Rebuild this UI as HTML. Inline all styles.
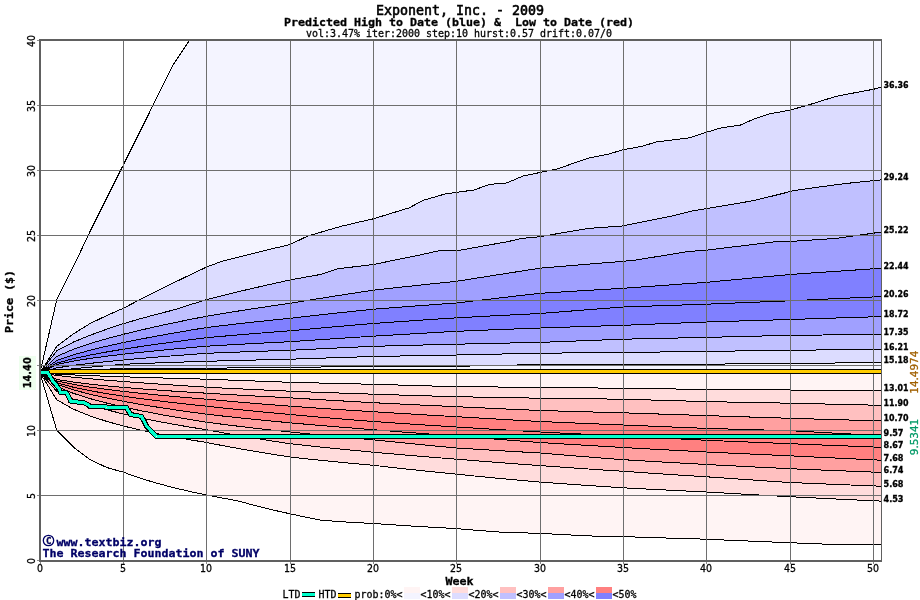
<!DOCTYPE html><html><head><meta charset="utf-8"><title>Exponent, Inc. - 2009</title>
<style>html,body{margin:0;padding:0;background:#fff;overflow:hidden}svg{display:block}text{font-family:'DejaVu Sans Mono','Liberation Mono',monospace;stroke:currentColor;stroke-width:0.3px;paint-order:stroke}.b{font-weight:bold}.n{font-family:'DejaVu Sans',sans-serif}</style></head><body>
<svg width="920" height="600" viewBox="0 0 920 600">
<rect x="0" y="0" width="920" height="600" fill="#fff"/>
<polygon fill="#f4f4ff" points="40.00,372.80 56.67,300.00 73.33,266.70 90.00,231.60 106.67,198.20 123.33,165.00 140.00,131.50 156.67,98.00 173.33,64.50 189.67,40.00 881.00,40.00 881.00,372.80"/>
<polygon fill="#dcdcff" points="40.00,372.80 56.67,346.50 73.33,333.90 90.00,323.60 106.67,315.55 123.33,308.30 140.00,299.57 156.67,291.14 173.33,282.94 190.00,274.90 206.67,267.00 221.20,261.60 223.33,261.03 240.00,256.68 256.67,252.51 273.33,248.49 290.00,244.60 306.67,236.51 307.30,236.20 323.33,231.47 340.00,226.64 341.20,226.30 356.67,222.65 373.33,218.80 390.00,213.68 406.67,208.61 409.00,207.90 423.20,200.30 423.33,200.26 440.00,195.46 445.80,193.80 456.67,192.32 473.33,190.09 474.00,190.00 489.50,184.40 490.00,184.36 506.50,183.00 506.67,182.93 523.33,175.93 523.40,175.90 540.00,172.50 556.67,169.03 557.30,168.90 573.33,163.34 588.40,158.10 590.00,157.78 606.67,154.50 608.20,154.20 623.33,149.70 640.00,146.66 642.00,146.30 656.20,142.00 656.67,141.94 673.33,139.85 690.00,137.80 690.00,137.80 706.67,132.20 721.80,127.70 723.33,127.48 740.00,125.09 740.60,125.00 755.40,118.40 756.67,117.99 769.30,113.90 773.33,113.16 790.00,110.10 806.67,105.44 807.90,105.10 823.33,100.32 836.60,96.20 840.00,95.56 856.67,92.42 873.33,89.30 881.00,87.30 881.00,372.80"/>
<polygon fill="#c0c0ff" points="40.00,372.80 56.67,350.90 73.33,342.12 90.00,335.30 106.67,329.19 123.33,323.70 140.00,318.83 156.67,314.29 173.33,310.01 175.40,309.50 190.00,304.78 206.67,299.50 223.33,295.34 240.00,291.30 249.30,289.10 256.67,287.41 273.33,283.66 290.00,280.00 306.67,276.95 321.50,274.30 323.33,273.69 338.00,268.80 340.00,268.55 356.67,266.49 373.33,264.50 390.00,261.08 406.67,257.70 415.60,255.90 423.33,254.19 437.80,251.00 440.00,250.92 456.67,250.32 460.00,250.20 473.33,247.79 490.00,244.81 506.67,241.86 507.00,241.80 521.30,238.50 523.33,238.30 540.00,236.70 556.67,233.82 573.33,230.95 588.30,228.40 590.00,228.28 606.67,227.07 621.80,226.00 623.33,225.69 640.00,222.36 656.67,219.04 673.33,215.71 674.40,215.50 690.00,211.60 693.60,210.70 706.67,208.51 722.30,205.90 723.33,205.73 740.00,202.94 751.00,201.10 756.67,199.76 773.33,195.80 775.00,195.40 790.00,191.61 794.00,190.60 806.67,188.75 813.20,187.80 823.33,186.46 840.00,184.28 846.70,183.40 856.67,182.38 873.33,180.68 881.00,179.90 881.00,372.80"/>
<polygon fill="#a0a0ff" points="40.00,372.80 56.67,356.44 73.33,349.27 90.00,343.60 106.67,338.70 123.33,334.30 140.00,330.25 156.67,326.46 173.33,322.88 190.00,319.47 206.67,316.20 223.33,313.43 240.00,310.76 256.67,308.20 273.33,305.71 290.00,303.30 306.67,300.58 323.33,297.91 340.00,295.30 356.67,292.73 373.33,290.20 390.00,288.34 406.67,286.53 423.33,284.75 440.00,283.01 456.67,281.30 473.33,278.65 490.00,276.02 506.67,273.40 523.33,270.79 540.00,268.20 556.67,266.78 573.33,265.37 590.00,263.99 606.67,262.64 623.33,261.30 636.20,260.00 640.00,259.38 656.67,256.66 673.33,253.93 688.80,251.40 690.00,251.32 706.67,250.20 723.33,248.14 740.00,246.08 756.67,244.04 773.33,242.00 775.00,241.80 790.00,241.50 806.67,240.35 823.33,239.22 837.00,238.30 840.00,237.88 856.67,235.53 873.33,233.18 881.00,232.10 881.00,372.80"/>
<polygon fill="#8080ff" points="40.00,372.80 56.67,360.58 73.33,354.84 90.00,350.24 106.67,346.23 123.33,342.60 140.00,339.24 156.67,336.09 173.33,333.10 190.00,330.25 206.67,327.50 223.33,325.50 240.00,323.59 256.67,321.76 273.33,320.00 290.00,318.30 306.67,316.39 323.33,314.53 340.00,312.72 356.67,310.94 373.33,309.20 390.00,307.90 406.67,306.63 423.33,305.39 440.00,304.18 456.67,303.00 473.33,301.03 490.00,299.08 506.67,297.14 523.33,295.21 540.00,293.30 556.67,292.27 573.33,291.25 590.00,290.25 606.67,289.27 623.33,288.30 640.00,287.07 656.67,285.86 673.33,284.66 690.00,283.47 706.67,282.30 723.33,280.73 740.00,279.16 756.67,277.60 773.33,276.05 790.00,274.50 806.67,273.34 823.33,272.20 840.00,271.06 856.67,269.93 873.33,268.81 881.00,268.30 881.00,372.80"/>
<polygon fill="#8080ff" points="40.00,372.80 56.67,363.14 73.33,358.66 90.00,355.09 106.67,351.99 123.33,349.20 140.00,346.63 156.67,344.22 173.33,341.95 190.00,339.78 206.67,337.70 223.33,336.20 240.00,334.76 256.67,333.39 273.33,332.07 290.00,330.80 306.67,329.27 323.33,327.78 340.00,326.32 356.67,324.90 373.33,323.50 390.00,322.31 406.67,321.15 423.33,320.01 440.00,318.89 456.67,317.80 473.33,316.91 490.00,316.03 506.67,315.17 523.33,314.33 540.00,313.50 556.67,312.18 573.33,310.87 590.00,309.57 606.67,308.28 623.33,307.00 640.00,306.42 656.67,305.85 673.33,305.29 690.00,304.74 706.67,304.20 723.33,303.50 740.00,302.81 756.67,302.13 773.33,301.46 790.00,300.80 806.67,300.01 823.33,299.24 840.00,298.47 856.67,297.70 873.33,296.95 881.00,296.60 881.00,372.80"/>
<polygon fill="#a0a0ff" points="40.00,372.80 56.67,364.54 73.33,361.11 90.00,358.46 106.67,356.20 123.33,354.20 140.00,352.38 156.67,350.69 173.33,349.11 190.00,347.62 206.67,346.20 223.33,345.21 240.00,344.27 256.67,343.37 273.33,342.52 290.00,341.70 306.67,340.55 323.33,339.42 340.00,338.33 356.67,337.25 373.33,336.20 390.00,335.18 406.67,334.19 423.33,333.21 440.00,332.25 456.67,331.30 473.33,330.61 490.00,329.94 506.67,329.28 523.33,328.63 540.00,328.00 556.67,327.44 573.33,326.89 590.00,326.35 606.67,325.82 623.33,325.30 640.00,324.62 656.67,323.96 673.33,323.30 690.00,322.64 706.67,322.00 723.33,321.49 740.00,320.98 756.67,320.48 773.33,319.99 790.00,319.50 806.67,318.96 823.33,318.42 840.00,317.89 856.67,317.36 873.33,316.84 881.00,316.60 881.00,372.80"/>
<polygon fill="#c0c0ff" points="40.00,372.80 56.67,367.89 73.33,365.40 90.00,363.38 106.67,361.61 123.33,360.00 140.00,358.51 156.67,357.11 173.33,355.78 190.00,354.52 206.67,353.30 223.33,352.63 240.00,352.01 256.67,351.41 273.33,350.84 290.00,350.30 306.67,349.46 323.33,348.64 340.00,347.85 356.67,347.06 373.33,346.30 390.00,345.86 406.67,345.42 423.33,345.00 440.00,344.60 456.67,344.20 473.33,343.82 490.00,343.45 506.67,343.09 523.33,342.74 540.00,342.40 556.67,341.75 573.33,341.10 590.00,340.46 606.67,339.83 623.33,339.20 640.00,338.83 656.67,338.46 673.33,338.10 690.00,337.75 706.67,337.40 723.33,336.97 740.00,336.55 756.67,336.13 773.33,335.71 790.00,335.30 806.67,335.15 823.33,335.00 840.00,334.85 856.67,334.71 873.33,334.56 881.00,334.50 881.00,372.80"/>
<polygon fill="#dcdcff" points="40.00,372.80 56.67,370.49 73.33,368.77 90.00,367.20 106.67,365.72 123.33,364.30 140.00,363.60 156.67,362.96 173.33,362.37 190.00,361.82 206.67,361.30 223.33,360.84 240.00,360.40 256.67,359.98 273.33,359.58 290.00,359.20 306.67,358.64 323.33,358.09 340.00,357.55 356.67,357.02 373.33,356.50 390.00,356.18 406.67,355.88 423.33,355.58 440.00,355.28 456.67,355.00 473.33,354.63 490.00,354.26 506.67,353.90 523.33,353.55 540.00,353.20 556.67,353.05 573.33,352.91 590.00,352.77 606.67,352.63 623.33,352.50 640.00,352.27 656.67,352.05 673.33,351.83 690.00,351.61 706.67,351.40 723.33,351.17 740.00,350.95 756.67,350.73 773.33,350.51 790.00,350.30 806.67,350.11 823.33,349.93 840.00,349.74 856.67,349.56 873.33,349.38 881.00,349.30 881.00,372.80"/>
<polygon fill="#f4f4ff" points="40.00,372.80 56.67,370.34 73.33,369.77 90.00,369.37 106.67,369.06 123.33,368.80 140.00,368.65 156.67,368.52 173.33,368.40 190.00,368.30 206.67,368.20 223.33,368.04 240.00,367.90 256.67,367.76 273.33,367.63 290.00,367.50 306.67,367.23 323.33,366.97 340.00,366.71 356.67,366.45 373.33,366.20 390.00,366.22 406.67,366.24 423.33,366.26 440.00,366.28 456.67,366.30 473.33,365.95 490.00,365.59 506.67,365.23 523.33,364.87 540.00,364.50 556.67,364.50 573.33,364.50 590.00,364.50 606.67,364.50 623.33,364.50 640.00,364.44 656.67,364.38 673.33,364.32 690.00,364.26 706.67,364.20 723.33,364.02 740.00,363.84 756.67,363.66 773.33,363.48 790.00,363.30 806.67,363.19 823.33,363.08 840.00,362.97 856.67,362.86 873.33,362.75 881.00,362.70 881.00,372.80"/>
<polygon fill="#fff4f4" points="40.00,372.80 56.67,430.00 73.33,447.00 90.00,459.50 106.67,467.50 123.33,472.20 140.00,478.10 156.67,483.17 173.33,487.59 190.00,491.50 206.67,495.00 223.33,498.24 237.20,500.70 240.00,501.50 256.67,505.98 273.33,510.07 290.00,513.80 306.67,517.34 321.30,520.20 323.33,520.36 340.00,521.59 348.70,522.20 356.67,522.63 373.33,523.50 390.00,524.64 406.67,525.72 423.33,526.73 440.00,527.69 456.67,528.60 473.33,530.02 490.00,531.35 498.50,532.00 506.67,532.29 523.33,532.86 540.00,533.40 556.67,534.27 573.33,535.10 590.00,535.90 598.80,536.30 606.67,536.40 623.33,536.60 640.00,537.16 656.67,537.70 673.33,538.22 690.00,538.72 706.67,539.20 723.33,539.96 740.00,540.69 756.67,541.39 773.33,542.06 790.00,542.70 806.67,543.40 823.33,544.07 832.00,544.40 840.00,544.40 856.67,544.40 873.33,544.40 881.00,544.40 881.00,372.80"/>
<polygon fill="#ffdcdc" points="40.00,372.80 56.67,399.66 73.33,409.12 90.00,415.93 106.67,421.39 123.33,426.00 140.00,430.02 156.67,433.60 173.33,436.83 190.00,439.78 206.67,442.50 223.33,445.75 240.00,448.81 256.67,451.69 273.33,454.41 290.00,457.00 306.67,458.83 323.33,460.56 340.00,462.21 356.67,463.79 373.33,465.30 390.00,467.22 406.67,469.06 423.33,470.84 440.00,472.55 456.67,474.20 473.33,475.89 490.00,477.52 506.67,479.09 523.33,480.62 540.00,482.10 556.67,483.31 573.33,484.48 590.00,485.62 606.67,486.73 623.33,487.80 640.00,488.69 656.67,489.55 673.33,490.39 690.00,491.20 706.67,492.00 723.33,492.99 740.00,493.95 756.67,494.89 773.33,495.80 790.00,496.70 806.67,497.55 823.33,498.37 840.00,499.18 856.67,499.98 873.33,500.75 881.00,501.10 881.00,372.80"/>
<polygon fill="#ffc0c0" points="40.00,372.80 56.67,391.14 73.33,398.98 90.00,404.88 106.67,409.77 123.33,414.00 140.00,417.75 156.67,421.15 173.33,424.26 190.00,427.13 206.67,429.80 223.33,432.87 240.00,435.78 256.67,438.54 273.33,441.18 290.00,443.70 306.67,445.55 323.33,447.32 340.00,449.02 356.67,450.64 373.33,452.20 390.00,453.70 406.67,455.15 423.33,456.55 440.00,457.89 456.67,459.20 473.33,460.56 490.00,461.87 506.67,463.15 523.33,464.39 540.00,465.60 556.67,466.80 573.33,467.97 590.00,469.11 606.67,470.22 623.33,471.30 640.00,472.45 656.67,473.58 673.33,474.68 690.00,475.75 706.67,476.80 723.33,477.99 740.00,479.15 756.67,480.29 773.33,481.41 790.00,482.50 806.67,483.21 823.33,483.90 840.00,484.58 856.67,485.25 873.33,485.90 881.00,486.20 881.00,372.80"/>
<polygon fill="#ffa0a0" points="40.00,372.80 56.67,386.58 73.33,393.32 90.00,398.60 106.67,403.07 123.33,407.00 140.00,410.54 156.67,413.79 173.33,416.78 190.00,419.58 206.67,422.20 223.33,424.38 240.00,426.43 256.67,428.38 273.33,430.23 290.00,432.00 306.67,433.69 323.33,435.31 340.00,436.86 356.67,438.36 373.33,439.80 390.00,441.54 406.67,443.22 423.33,444.86 440.00,446.45 456.67,448.00 473.33,449.06 490.00,450.09 506.67,451.08 523.33,452.06 540.00,453.00 556.67,454.40 573.33,455.77 590.00,457.11 606.67,458.42 623.33,459.70 640.00,460.70 656.67,461.68 673.33,462.64 690.00,463.58 706.67,464.50 723.33,465.37 740.00,466.23 756.67,467.07 773.33,467.89 790.00,468.70 806.67,469.41 823.33,470.10 840.00,470.78 856.67,471.45 873.33,472.10 881.00,472.40 881.00,372.80"/>
<polygon fill="#ff8080" points="40.00,372.80 56.67,384.25 73.33,389.85 90.00,394.25 106.67,397.99 123.33,401.30 140.00,404.29 156.67,407.03 173.33,409.58 190.00,411.96 206.67,414.20 223.33,416.10 240.00,417.90 256.67,419.61 273.33,421.24 290.00,422.80 306.67,424.29 323.33,425.72 340.00,427.09 356.67,428.42 373.33,429.70 390.00,431.04 406.67,432.33 423.33,433.59 440.00,434.81 456.67,436.00 473.33,437.36 490.00,438.69 506.67,439.99 523.33,441.26 540.00,442.50 556.67,443.54 573.33,444.57 590.00,445.56 606.67,446.54 623.33,447.50 640.00,448.44 656.67,449.35 673.33,450.25 690.00,451.13 706.67,452.00 723.33,452.79 740.00,453.56 756.67,454.32 773.33,455.07 790.00,455.80 806.67,456.63 823.33,457.46 840.00,458.26 856.67,459.06 873.33,459.84 881.00,460.20 881.00,372.80"/>
<polygon fill="#ff8080" points="40.00,372.80 56.67,382.72 73.33,387.21 90.00,390.69 106.67,393.62 123.33,396.20 140.00,398.52 156.67,400.65 173.33,402.62 190.00,404.47 206.67,406.20 223.33,408.01 240.00,409.73 256.67,411.39 273.33,412.97 290.00,414.50 306.67,415.99 323.33,417.43 340.00,418.83 356.67,420.19 373.33,421.50 390.00,422.66 406.67,423.79 423.33,424.89 440.00,425.96 456.67,427.00 473.33,428.05 490.00,429.07 506.67,430.07 523.33,431.04 540.00,432.00 556.67,432.83 573.33,433.65 590.00,434.45 606.67,435.23 623.33,436.00 640.00,436.89 656.67,437.76 673.33,438.62 690.00,439.47 706.67,440.30 723.33,441.00 740.00,441.69 756.67,442.37 773.33,443.04 790.00,443.70 806.67,444.38 823.33,445.05 840.00,445.71 856.67,446.37 873.33,447.01 881.00,447.30 881.00,372.80"/>
<polygon fill="#ffa0a0" points="40.00,372.80 56.67,380.85 73.33,384.38 90.00,387.10 106.67,389.39 123.33,391.40 140.00,393.21 156.67,394.87 173.33,396.41 190.00,397.85 206.67,399.20 223.33,400.71 240.00,402.16 256.67,403.56 273.33,404.90 290.00,406.20 306.67,407.37 323.33,408.50 340.00,409.60 356.67,410.67 373.33,411.70 390.00,412.75 406.67,413.77 423.33,414.77 440.00,415.75 456.67,416.70 473.33,417.70 490.00,418.68 506.67,419.64 523.33,420.58 540.00,421.50 556.67,422.23 573.33,422.94 590.00,423.64 606.67,424.33 623.33,425.00 640.00,425.70 656.67,426.39 673.33,427.07 690.00,427.74 706.67,428.40 723.33,428.88 740.00,429.34 756.67,429.80 773.33,430.26 790.00,430.70 806.67,431.62 823.33,432.53 840.00,433.42 856.67,434.32 873.33,435.20 881.00,435.60 881.00,372.80"/>
<polygon fill="#ffc0c0" points="40.00,372.80 56.67,379.40 73.33,382.11 90.00,384.17 106.67,385.89 123.33,387.40 140.00,388.75 156.67,389.99 173.33,391.13 190.00,392.20 206.67,393.20 223.33,394.20 240.00,395.16 256.67,396.08 273.33,396.95 290.00,397.80 306.67,398.83 323.33,399.83 340.00,400.81 356.67,401.77 373.33,402.70 390.00,403.54 406.67,404.35 423.33,405.15 440.00,405.93 456.67,406.70 473.33,407.49 490.00,408.26 506.67,409.02 523.33,409.77 540.00,410.50 556.67,410.98 573.33,411.45 590.00,411.91 606.67,412.36 623.33,412.80 640.00,413.38 656.67,413.95 673.33,414.51 690.00,415.06 706.67,415.60 723.33,416.15 740.00,416.70 756.67,417.24 773.33,417.77 790.00,418.30 806.67,418.79 823.33,419.27 840.00,419.75 856.67,420.22 873.33,420.69 881.00,420.90 881.00,372.80"/>
<polygon fill="#ffdcdc" points="40.00,372.80 56.67,375.44 73.33,377.23 90.00,378.78 106.67,380.19 123.33,381.50 140.00,382.74 156.67,383.92 173.33,385.05 190.00,386.15 206.67,387.20 223.33,388.06 240.00,388.88 256.67,389.68 273.33,390.45 290.00,391.20 306.67,391.84 323.33,392.45 340.00,393.05 356.67,393.63 373.33,394.20 390.00,394.72 406.67,395.24 423.33,395.74 440.00,396.22 456.67,396.70 473.33,397.02 490.00,397.32 506.67,397.62 523.33,397.91 540.00,398.20 556.67,398.41 573.33,398.61 590.00,398.81 606.67,399.01 623.33,399.20 640.00,399.69 656.67,400.18 673.33,400.66 690.00,401.13 706.67,401.60 723.33,401.93 740.00,402.25 756.67,402.57 773.33,402.89 790.00,403.20 806.67,403.59 823.33,403.98 840.00,404.37 856.67,404.75 873.33,405.13 881.00,405.30 881.00,372.80"/>
<polygon fill="#fff4f4" points="40.00,372.80 56.67,374.13 73.33,374.94 90.00,375.62 106.67,376.24 123.33,376.80 140.00,377.33 156.67,377.83 173.33,378.30 190.00,378.76 206.67,379.20 223.33,379.82 240.00,380.45 256.67,381.07 273.33,381.68 290.00,382.30 306.67,382.72 323.33,383.12 340.00,383.52 356.67,383.92 373.33,384.30 390.00,384.79 406.67,385.27 423.33,385.75 440.00,386.23 456.67,386.70 473.33,386.83 490.00,386.95 506.67,387.07 523.33,387.19 540.00,387.30 556.67,387.51 573.33,387.71 590.00,387.91 606.67,388.11 623.33,388.30 640.00,388.53 656.67,388.75 673.33,388.97 690.00,389.19 706.67,389.40 723.33,389.52 740.00,389.65 756.67,389.77 773.33,389.88 790.00,390.00 806.67,390.17 823.33,390.34 840.00,390.50 856.67,390.67 873.33,390.83 881.00,390.90 881.00,372.80"/>
<g fill="none" stroke="#000" stroke-width="1" shape-rendering="crispEdges"><polyline points="40.00,372.80 56.67,300.00 73.33,266.70 90.00,231.60 106.67,198.20 123.33,165.00 140.00,131.50 156.67,98.00 173.33,64.50 189.67,40.00"/><polyline points="40.00,372.80 56.67,346.50 73.33,333.90 90.00,323.60 106.67,315.55 123.33,308.30 140.00,299.57 156.67,291.14 173.33,282.94 190.00,274.90 206.67,267.00 221.20,261.60 223.33,261.03 240.00,256.68 256.67,252.51 273.33,248.49 290.00,244.60 306.67,236.51 307.30,236.20 323.33,231.47 340.00,226.64 341.20,226.30 356.67,222.65 373.33,218.80 390.00,213.68 406.67,208.61 409.00,207.90 423.20,200.30 423.33,200.26 440.00,195.46 445.80,193.80 456.67,192.32 473.33,190.09 474.00,190.00 489.50,184.40 490.00,184.36 506.50,183.00 506.67,182.93 523.33,175.93 523.40,175.90 540.00,172.50 556.67,169.03 557.30,168.90 573.33,163.34 588.40,158.10 590.00,157.78 606.67,154.50 608.20,154.20 623.33,149.70 640.00,146.66 642.00,146.30 656.20,142.00 656.67,141.94 673.33,139.85 690.00,137.80 690.00,137.80 706.67,132.20 721.80,127.70 723.33,127.48 740.00,125.09 740.60,125.00 755.40,118.40 756.67,117.99 769.30,113.90 773.33,113.16 790.00,110.10 806.67,105.44 807.90,105.10 823.33,100.32 836.60,96.20 840.00,95.56 856.67,92.42 873.33,89.30 881.00,87.30"/><polyline points="40.00,372.80 56.67,350.90 73.33,342.12 90.00,335.30 106.67,329.19 123.33,323.70 140.00,318.83 156.67,314.29 173.33,310.01 175.40,309.50 190.00,304.78 206.67,299.50 223.33,295.34 240.00,291.30 249.30,289.10 256.67,287.41 273.33,283.66 290.00,280.00 306.67,276.95 321.50,274.30 323.33,273.69 338.00,268.80 340.00,268.55 356.67,266.49 373.33,264.50 390.00,261.08 406.67,257.70 415.60,255.90 423.33,254.19 437.80,251.00 440.00,250.92 456.67,250.32 460.00,250.20 473.33,247.79 490.00,244.81 506.67,241.86 507.00,241.80 521.30,238.50 523.33,238.30 540.00,236.70 556.67,233.82 573.33,230.95 588.30,228.40 590.00,228.28 606.67,227.07 621.80,226.00 623.33,225.69 640.00,222.36 656.67,219.04 673.33,215.71 674.40,215.50 690.00,211.60 693.60,210.70 706.67,208.51 722.30,205.90 723.33,205.73 740.00,202.94 751.00,201.10 756.67,199.76 773.33,195.80 775.00,195.40 790.00,191.61 794.00,190.60 806.67,188.75 813.20,187.80 823.33,186.46 840.00,184.28 846.70,183.40 856.67,182.38 873.33,180.68 881.00,179.90"/><polyline points="40.00,372.80 56.67,356.44 73.33,349.27 90.00,343.60 106.67,338.70 123.33,334.30 140.00,330.25 156.67,326.46 173.33,322.88 190.00,319.47 206.67,316.20 223.33,313.43 240.00,310.76 256.67,308.20 273.33,305.71 290.00,303.30 306.67,300.58 323.33,297.91 340.00,295.30 356.67,292.73 373.33,290.20 390.00,288.34 406.67,286.53 423.33,284.75 440.00,283.01 456.67,281.30 473.33,278.65 490.00,276.02 506.67,273.40 523.33,270.79 540.00,268.20 556.67,266.78 573.33,265.37 590.00,263.99 606.67,262.64 623.33,261.30 636.20,260.00 640.00,259.38 656.67,256.66 673.33,253.93 688.80,251.40 690.00,251.32 706.67,250.20 723.33,248.14 740.00,246.08 756.67,244.04 773.33,242.00 775.00,241.80 790.00,241.50 806.67,240.35 823.33,239.22 837.00,238.30 840.00,237.88 856.67,235.53 873.33,233.18 881.00,232.10"/><polyline points="40.00,372.80 56.67,360.58 73.33,354.84 90.00,350.24 106.67,346.23 123.33,342.60 140.00,339.24 156.67,336.09 173.33,333.10 190.00,330.25 206.67,327.50 223.33,325.50 240.00,323.59 256.67,321.76 273.33,320.00 290.00,318.30 306.67,316.39 323.33,314.53 340.00,312.72 356.67,310.94 373.33,309.20 390.00,307.90 406.67,306.63 423.33,305.39 440.00,304.18 456.67,303.00 473.33,301.03 490.00,299.08 506.67,297.14 523.33,295.21 540.00,293.30 556.67,292.27 573.33,291.25 590.00,290.25 606.67,289.27 623.33,288.30 640.00,287.07 656.67,285.86 673.33,284.66 690.00,283.47 706.67,282.30 723.33,280.73 740.00,279.16 756.67,277.60 773.33,276.05 790.00,274.50 806.67,273.34 823.33,272.20 840.00,271.06 856.67,269.93 873.33,268.81 881.00,268.30"/><polyline points="40.00,372.80 56.67,363.14 73.33,358.66 90.00,355.09 106.67,351.99 123.33,349.20 140.00,346.63 156.67,344.22 173.33,341.95 190.00,339.78 206.67,337.70 223.33,336.20 240.00,334.76 256.67,333.39 273.33,332.07 290.00,330.80 306.67,329.27 323.33,327.78 340.00,326.32 356.67,324.90 373.33,323.50 390.00,322.31 406.67,321.15 423.33,320.01 440.00,318.89 456.67,317.80 473.33,316.91 490.00,316.03 506.67,315.17 523.33,314.33 540.00,313.50 556.67,312.18 573.33,310.87 590.00,309.57 606.67,308.28 623.33,307.00 640.00,306.42 656.67,305.85 673.33,305.29 690.00,304.74 706.67,304.20 723.33,303.50 740.00,302.81 756.67,302.13 773.33,301.46 790.00,300.80 806.67,300.01 823.33,299.24 840.00,298.47 856.67,297.70 873.33,296.95 881.00,296.60"/><polyline points="40.00,372.80 56.67,364.54 73.33,361.11 90.00,358.46 106.67,356.20 123.33,354.20 140.00,352.38 156.67,350.69 173.33,349.11 190.00,347.62 206.67,346.20 223.33,345.21 240.00,344.27 256.67,343.37 273.33,342.52 290.00,341.70 306.67,340.55 323.33,339.42 340.00,338.33 356.67,337.25 373.33,336.20 390.00,335.18 406.67,334.19 423.33,333.21 440.00,332.25 456.67,331.30 473.33,330.61 490.00,329.94 506.67,329.28 523.33,328.63 540.00,328.00 556.67,327.44 573.33,326.89 590.00,326.35 606.67,325.82 623.33,325.30 640.00,324.62 656.67,323.96 673.33,323.30 690.00,322.64 706.67,322.00 723.33,321.49 740.00,320.98 756.67,320.48 773.33,319.99 790.00,319.50 806.67,318.96 823.33,318.42 840.00,317.89 856.67,317.36 873.33,316.84 881.00,316.60"/><polyline points="40.00,372.80 56.67,367.89 73.33,365.40 90.00,363.38 106.67,361.61 123.33,360.00 140.00,358.51 156.67,357.11 173.33,355.78 190.00,354.52 206.67,353.30 223.33,352.63 240.00,352.01 256.67,351.41 273.33,350.84 290.00,350.30 306.67,349.46 323.33,348.64 340.00,347.85 356.67,347.06 373.33,346.30 390.00,345.86 406.67,345.42 423.33,345.00 440.00,344.60 456.67,344.20 473.33,343.82 490.00,343.45 506.67,343.09 523.33,342.74 540.00,342.40 556.67,341.75 573.33,341.10 590.00,340.46 606.67,339.83 623.33,339.20 640.00,338.83 656.67,338.46 673.33,338.10 690.00,337.75 706.67,337.40 723.33,336.97 740.00,336.55 756.67,336.13 773.33,335.71 790.00,335.30 806.67,335.15 823.33,335.00 840.00,334.85 856.67,334.71 873.33,334.56 881.00,334.50"/><polyline points="40.00,372.80 56.67,370.49 73.33,368.77 90.00,367.20 106.67,365.72 123.33,364.30 140.00,363.60 156.67,362.96 173.33,362.37 190.00,361.82 206.67,361.30 223.33,360.84 240.00,360.40 256.67,359.98 273.33,359.58 290.00,359.20 306.67,358.64 323.33,358.09 340.00,357.55 356.67,357.02 373.33,356.50 390.00,356.18 406.67,355.88 423.33,355.58 440.00,355.28 456.67,355.00 473.33,354.63 490.00,354.26 506.67,353.90 523.33,353.55 540.00,353.20 556.67,353.05 573.33,352.91 590.00,352.77 606.67,352.63 623.33,352.50 640.00,352.27 656.67,352.05 673.33,351.83 690.00,351.61 706.67,351.40 723.33,351.17 740.00,350.95 756.67,350.73 773.33,350.51 790.00,350.30 806.67,350.11 823.33,349.93 840.00,349.74 856.67,349.56 873.33,349.38 881.00,349.30"/><polyline points="40.00,372.80 56.67,370.34 73.33,369.77 90.00,369.37 106.67,369.06 123.33,368.80 140.00,368.65 156.67,368.52 173.33,368.40 190.00,368.30 206.67,368.20 223.33,368.04 240.00,367.90 256.67,367.76 273.33,367.63 290.00,367.50 306.67,367.23 323.33,366.97 340.00,366.71 356.67,366.45 373.33,366.20 390.00,366.22 406.67,366.24 423.33,366.26 440.00,366.28 456.67,366.30 473.33,365.95 490.00,365.59 506.67,365.23 523.33,364.87 540.00,364.50 556.67,364.50 573.33,364.50 590.00,364.50 606.67,364.50 623.33,364.50 640.00,364.44 656.67,364.38 673.33,364.32 690.00,364.26 706.67,364.20 723.33,364.02 740.00,363.84 756.67,363.66 773.33,363.48 790.00,363.30 806.67,363.19 823.33,363.08 840.00,362.97 856.67,362.86 873.33,362.75 881.00,362.70"/><polyline points="40.00,372.80 56.67,374.13 73.33,374.94 90.00,375.62 106.67,376.24 123.33,376.80 140.00,377.33 156.67,377.83 173.33,378.30 190.00,378.76 206.67,379.20 223.33,379.82 240.00,380.45 256.67,381.07 273.33,381.68 290.00,382.30 306.67,382.72 323.33,383.12 340.00,383.52 356.67,383.92 373.33,384.30 390.00,384.79 406.67,385.27 423.33,385.75 440.00,386.23 456.67,386.70 473.33,386.83 490.00,386.95 506.67,387.07 523.33,387.19 540.00,387.30 556.67,387.51 573.33,387.71 590.00,387.91 606.67,388.11 623.33,388.30 640.00,388.53 656.67,388.75 673.33,388.97 690.00,389.19 706.67,389.40 723.33,389.52 740.00,389.65 756.67,389.77 773.33,389.88 790.00,390.00 806.67,390.17 823.33,390.34 840.00,390.50 856.67,390.67 873.33,390.83 881.00,390.90"/><polyline points="40.00,372.80 56.67,375.44 73.33,377.23 90.00,378.78 106.67,380.19 123.33,381.50 140.00,382.74 156.67,383.92 173.33,385.05 190.00,386.15 206.67,387.20 223.33,388.06 240.00,388.88 256.67,389.68 273.33,390.45 290.00,391.20 306.67,391.84 323.33,392.45 340.00,393.05 356.67,393.63 373.33,394.20 390.00,394.72 406.67,395.24 423.33,395.74 440.00,396.22 456.67,396.70 473.33,397.02 490.00,397.32 506.67,397.62 523.33,397.91 540.00,398.20 556.67,398.41 573.33,398.61 590.00,398.81 606.67,399.01 623.33,399.20 640.00,399.69 656.67,400.18 673.33,400.66 690.00,401.13 706.67,401.60 723.33,401.93 740.00,402.25 756.67,402.57 773.33,402.89 790.00,403.20 806.67,403.59 823.33,403.98 840.00,404.37 856.67,404.75 873.33,405.13 881.00,405.30"/><polyline points="40.00,372.80 56.67,379.40 73.33,382.11 90.00,384.17 106.67,385.89 123.33,387.40 140.00,388.75 156.67,389.99 173.33,391.13 190.00,392.20 206.67,393.20 223.33,394.20 240.00,395.16 256.67,396.08 273.33,396.95 290.00,397.80 306.67,398.83 323.33,399.83 340.00,400.81 356.67,401.77 373.33,402.70 390.00,403.54 406.67,404.35 423.33,405.15 440.00,405.93 456.67,406.70 473.33,407.49 490.00,408.26 506.67,409.02 523.33,409.77 540.00,410.50 556.67,410.98 573.33,411.45 590.00,411.91 606.67,412.36 623.33,412.80 640.00,413.38 656.67,413.95 673.33,414.51 690.00,415.06 706.67,415.60 723.33,416.15 740.00,416.70 756.67,417.24 773.33,417.77 790.00,418.30 806.67,418.79 823.33,419.27 840.00,419.75 856.67,420.22 873.33,420.69 881.00,420.90"/><polyline points="40.00,372.80 56.67,380.85 73.33,384.38 90.00,387.10 106.67,389.39 123.33,391.40 140.00,393.21 156.67,394.87 173.33,396.41 190.00,397.85 206.67,399.20 223.33,400.71 240.00,402.16 256.67,403.56 273.33,404.90 290.00,406.20 306.67,407.37 323.33,408.50 340.00,409.60 356.67,410.67 373.33,411.70 390.00,412.75 406.67,413.77 423.33,414.77 440.00,415.75 456.67,416.70 473.33,417.70 490.00,418.68 506.67,419.64 523.33,420.58 540.00,421.50 556.67,422.23 573.33,422.94 590.00,423.64 606.67,424.33 623.33,425.00 640.00,425.70 656.67,426.39 673.33,427.07 690.00,427.74 706.67,428.40 723.33,428.88 740.00,429.34 756.67,429.80 773.33,430.26 790.00,430.70 806.67,431.62 823.33,432.53 840.00,433.42 856.67,434.32 873.33,435.20 881.00,435.60"/><polyline points="40.00,372.80 56.67,382.72 73.33,387.21 90.00,390.69 106.67,393.62 123.33,396.20 140.00,398.52 156.67,400.65 173.33,402.62 190.00,404.47 206.67,406.20 223.33,408.01 240.00,409.73 256.67,411.39 273.33,412.97 290.00,414.50 306.67,415.99 323.33,417.43 340.00,418.83 356.67,420.19 373.33,421.50 390.00,422.66 406.67,423.79 423.33,424.89 440.00,425.96 456.67,427.00 473.33,428.05 490.00,429.07 506.67,430.07 523.33,431.04 540.00,432.00 556.67,432.83 573.33,433.65 590.00,434.45 606.67,435.23 623.33,436.00 640.00,436.89 656.67,437.76 673.33,438.62 690.00,439.47 706.67,440.30 723.33,441.00 740.00,441.69 756.67,442.37 773.33,443.04 790.00,443.70 806.67,444.38 823.33,445.05 840.00,445.71 856.67,446.37 873.33,447.01 881.00,447.30"/><polyline points="40.00,372.80 56.67,384.25 73.33,389.85 90.00,394.25 106.67,397.99 123.33,401.30 140.00,404.29 156.67,407.03 173.33,409.58 190.00,411.96 206.67,414.20 223.33,416.10 240.00,417.90 256.67,419.61 273.33,421.24 290.00,422.80 306.67,424.29 323.33,425.72 340.00,427.09 356.67,428.42 373.33,429.70 390.00,431.04 406.67,432.33 423.33,433.59 440.00,434.81 456.67,436.00 473.33,437.36 490.00,438.69 506.67,439.99 523.33,441.26 540.00,442.50 556.67,443.54 573.33,444.57 590.00,445.56 606.67,446.54 623.33,447.50 640.00,448.44 656.67,449.35 673.33,450.25 690.00,451.13 706.67,452.00 723.33,452.79 740.00,453.56 756.67,454.32 773.33,455.07 790.00,455.80 806.67,456.63 823.33,457.46 840.00,458.26 856.67,459.06 873.33,459.84 881.00,460.20"/><polyline points="40.00,372.80 56.67,386.58 73.33,393.32 90.00,398.60 106.67,403.07 123.33,407.00 140.00,410.54 156.67,413.79 173.33,416.78 190.00,419.58 206.67,422.20 223.33,424.38 240.00,426.43 256.67,428.38 273.33,430.23 290.00,432.00 306.67,433.69 323.33,435.31 340.00,436.86 356.67,438.36 373.33,439.80 390.00,441.54 406.67,443.22 423.33,444.86 440.00,446.45 456.67,448.00 473.33,449.06 490.00,450.09 506.67,451.08 523.33,452.06 540.00,453.00 556.67,454.40 573.33,455.77 590.00,457.11 606.67,458.42 623.33,459.70 640.00,460.70 656.67,461.68 673.33,462.64 690.00,463.58 706.67,464.50 723.33,465.37 740.00,466.23 756.67,467.07 773.33,467.89 790.00,468.70 806.67,469.41 823.33,470.10 840.00,470.78 856.67,471.45 873.33,472.10 881.00,472.40"/><polyline points="40.00,372.80 56.67,391.14 73.33,398.98 90.00,404.88 106.67,409.77 123.33,414.00 140.00,417.75 156.67,421.15 173.33,424.26 190.00,427.13 206.67,429.80 223.33,432.87 240.00,435.78 256.67,438.54 273.33,441.18 290.00,443.70 306.67,445.55 323.33,447.32 340.00,449.02 356.67,450.64 373.33,452.20 390.00,453.70 406.67,455.15 423.33,456.55 440.00,457.89 456.67,459.20 473.33,460.56 490.00,461.87 506.67,463.15 523.33,464.39 540.00,465.60 556.67,466.80 573.33,467.97 590.00,469.11 606.67,470.22 623.33,471.30 640.00,472.45 656.67,473.58 673.33,474.68 690.00,475.75 706.67,476.80 723.33,477.99 740.00,479.15 756.67,480.29 773.33,481.41 790.00,482.50 806.67,483.21 823.33,483.90 840.00,484.58 856.67,485.25 873.33,485.90 881.00,486.20"/><polyline points="40.00,372.80 56.67,399.66 73.33,409.12 90.00,415.93 106.67,421.39 123.33,426.00 140.00,430.02 156.67,433.60 173.33,436.83 190.00,439.78 206.67,442.50 223.33,445.75 240.00,448.81 256.67,451.69 273.33,454.41 290.00,457.00 306.67,458.83 323.33,460.56 340.00,462.21 356.67,463.79 373.33,465.30 390.00,467.22 406.67,469.06 423.33,470.84 440.00,472.55 456.67,474.20 473.33,475.89 490.00,477.52 506.67,479.09 523.33,480.62 540.00,482.10 556.67,483.31 573.33,484.48 590.00,485.62 606.67,486.73 623.33,487.80 640.00,488.69 656.67,489.55 673.33,490.39 690.00,491.20 706.67,492.00 723.33,492.99 740.00,493.95 756.67,494.89 773.33,495.80 790.00,496.70 806.67,497.55 823.33,498.37 840.00,499.18 856.67,499.98 873.33,500.75 881.00,501.10"/><polyline points="40.00,372.80 56.67,430.00 73.33,447.00 90.00,459.50 106.67,467.50 123.33,472.20 140.00,478.10 156.67,483.17 173.33,487.59 190.00,491.50 206.67,495.00 223.33,498.24 237.20,500.70 240.00,501.50 256.67,505.98 273.33,510.07 290.00,513.80 306.67,517.34 321.30,520.20 323.33,520.36 340.00,521.59 348.70,522.20 356.67,522.63 373.33,523.50 390.00,524.64 406.67,525.72 423.33,526.73 440.00,527.69 456.67,528.60 473.33,530.02 490.00,531.35 498.50,532.00 506.67,532.29 523.33,532.86 540.00,533.40 556.67,534.27 573.33,535.10 590.00,535.90 598.80,536.30 606.67,536.40 623.33,536.60 640.00,537.16 656.67,537.70 673.33,538.22 690.00,538.72 706.67,539.20 723.33,539.96 740.00,540.69 756.67,541.39 773.33,542.06 790.00,542.70 806.67,543.40 823.33,544.07 832.00,544.40 840.00,544.40 856.67,544.40 873.33,544.40 881.00,544.40"/></g>
<g shape-rendering="crispEdges">
<path d="M123.5,41V560M206.5,41V560M290.5,41V560M373.5,41V560M456.5,41V560M540.5,41V560M623.5,41V560M706.5,41V560M790.5,41V560M873.5,41V560M41,495.5H881M41,430.5H881M41,365.5H881M41,300.5H881M41,235.5H881M41,170.5H881M41,105.5H881" stroke="#6e6e6e" stroke-width="1" fill="none"/>
<path d="M37,560.5H39M37,495.5H39M37,430.5H39M37,365.5H39M37,300.5H39M37,235.5H39M37,170.5H39M37,105.5H39M37,40.5H39M40.5,562V564M123.5,562V564M206.5,562V564M290.5,562V564M373.5,562V564M456.5,562V564M540.5,562V564M623.5,562V564M706.5,562V564M790.5,562V564M873.5,562V564" stroke="#8a8a8a" stroke-width="1" fill="none"/>
<path d="M39,40H882M40,39V562M39,561H882" stroke="#606060" stroke-width="2" fill="none"/>
<path d="M881.5,40V561" stroke="#606060" stroke-width="1" fill="none"/>
</g>
<g shape-rendering="crispEdges">
<path d="M40.50,369.00 L881.00,369.00 L881.00,374.00 L40.50,374.00Z" fill="#000"/>
<path d="M40.50,370.00 L881.00,370.00 L881.00,373.00 L40.50,373.00Z" fill="#ffcc00"/>
<path d="M40.50,372.50 L47.50,372.50 L49.50,375.50 L53.50,382.00 L55.50,384.00 L59.50,389.50 L60.50,392.50 L66.50,393.00 L68.50,396.00 L70.50,401.00 L77.50,402.00 L84.50,403.00 L88.50,405.00 L90.00,406.50 L105.50,406.50 L106.50,407.50 L126.50,407.50 L130.50,414.50 L141.50,416.50 L144.00,421.00 L146.50,426.00 L151.50,431.50 L156.50,436.50 L881.00,436.50" stroke="#000" stroke-width="5" fill="none" stroke-linejoin="miter" stroke-miterlimit="3"/>
<path d="M40.50,372.50 L47.50,372.50 L49.50,375.50 L53.50,382.00 L55.50,384.00 L59.50,389.50 L60.50,392.50 L66.50,393.00 L68.50,396.00 L70.50,401.00 L77.50,402.00 L84.50,403.00 L88.50,405.00 L90.00,406.50 L105.50,406.50 L106.50,407.50 L126.50,407.50 L130.50,414.50 L141.50,416.50 L144.00,421.00 L146.50,426.00 L151.50,431.50 L156.50,436.50 L881.00,436.50" stroke="#00ffcc" stroke-width="3" fill="none" stroke-linejoin="miter" stroke-miterlimit="3"/>
</g>
<text x="376.0" y="15.0" font-size="13.6" fill="#000" color="#000" textLength="168.0" lengthAdjust="spacingAndGlyphs" style="stroke-width:0.6px">Exponent, Inc. - 2009</text>
<text x="284.0" y="26.0" font-size="11.0" fill="#000" color="#000" textLength="350.0" lengthAdjust="spacingAndGlyphs" class="b" style="white-space:pre">Predicted High to Date (blue) &amp;  Low to Date (red)</text>
<text x="306.0" y="37.0" font-size="11.0" fill="#000" color="#000" textLength="306.0" lengthAdjust="spacingAndGlyphs">vol:3.47% iter:2000 step:10 hurst:0.57 drift:0.07/0</text>
<text class="n" transform="translate(35,561.0) rotate(-90)" font-size="11" text-anchor="middle" textLength="6" lengthAdjust="spacingAndGlyphs">0</text>
<text class="n" transform="translate(35,496.0) rotate(-90)" font-size="11" text-anchor="middle" textLength="6" lengthAdjust="spacingAndGlyphs">5</text>
<text class="n" transform="translate(35,431.0) rotate(-90)" font-size="11" text-anchor="middle" textLength="12" lengthAdjust="spacingAndGlyphs">10</text>
<text class="n" transform="translate(35,366.0) rotate(-90)" font-size="11" text-anchor="middle" textLength="12" lengthAdjust="spacingAndGlyphs">15</text>
<text class="n" transform="translate(35,301.0) rotate(-90)" font-size="11" text-anchor="middle" textLength="12" lengthAdjust="spacingAndGlyphs">20</text>
<text class="n" transform="translate(35,236.0) rotate(-90)" font-size="11" text-anchor="middle" textLength="12" lengthAdjust="spacingAndGlyphs">25</text>
<text class="n" transform="translate(35,171.0) rotate(-90)" font-size="11" text-anchor="middle" textLength="12" lengthAdjust="spacingAndGlyphs">30</text>
<text class="n" transform="translate(35,106.0) rotate(-90)" font-size="11" text-anchor="middle" textLength="12" lengthAdjust="spacingAndGlyphs">35</text>
<text class="n" transform="translate(35,41.0) rotate(-90)" font-size="11" text-anchor="middle" textLength="12" lengthAdjust="spacingAndGlyphs">40</text>
<text class="b" transform="translate(13,301.5) rotate(-90)" font-size="11" text-anchor="middle" textLength="63" lengthAdjust="spacingAndGlyphs">Price ($)</text>
<rect x="19" y="356" width="17" height="34" fill="#efffef"/>
<text class="b n" transform="translate(31,372.8) rotate(-90)" font-size="11" text-anchor="middle" textLength="31" lengthAdjust="spacingAndGlyphs">14.40</text>
<text x="40.0" y="572.0" font-size="11.0" fill="#000" color="#000" textLength="6.0" lengthAdjust="spacingAndGlyphs" text-anchor="middle" class="n">0</text>
<text x="123.0" y="572.0" font-size="11.0" fill="#000" color="#000" textLength="6.0" lengthAdjust="spacingAndGlyphs" text-anchor="middle" class="n">5</text>
<text x="206.0" y="572.0" font-size="11.0" fill="#000" color="#000" textLength="12.0" lengthAdjust="spacingAndGlyphs" text-anchor="middle" class="n">10</text>
<text x="290.0" y="572.0" font-size="11.0" fill="#000" color="#000" textLength="12.0" lengthAdjust="spacingAndGlyphs" text-anchor="middle" class="n">15</text>
<text x="373.0" y="572.0" font-size="11.0" fill="#000" color="#000" textLength="12.0" lengthAdjust="spacingAndGlyphs" text-anchor="middle" class="n">20</text>
<text x="456.0" y="572.0" font-size="11.0" fill="#000" color="#000" textLength="12.0" lengthAdjust="spacingAndGlyphs" text-anchor="middle" class="n">25</text>
<text x="540.0" y="572.0" font-size="11.0" fill="#000" color="#000" textLength="12.0" lengthAdjust="spacingAndGlyphs" text-anchor="middle" class="n">30</text>
<text x="623.0" y="572.0" font-size="11.0" fill="#000" color="#000" textLength="12.0" lengthAdjust="spacingAndGlyphs" text-anchor="middle" class="n">35</text>
<text x="706.0" y="572.0" font-size="11.0" fill="#000" color="#000" textLength="12.0" lengthAdjust="spacingAndGlyphs" text-anchor="middle" class="n">40</text>
<text x="790.0" y="572.0" font-size="11.0" fill="#000" color="#000" textLength="12.0" lengthAdjust="spacingAndGlyphs" text-anchor="middle" class="n">45</text>
<text x="873.0" y="572.0" font-size="11.0" fill="#000" color="#000" textLength="12.0" lengthAdjust="spacingAndGlyphs" text-anchor="middle" class="n">50</text>
<text x="445.5" y="585.0" font-size="11.0" fill="#000" color="#000" textLength="28.0" lengthAdjust="spacingAndGlyphs" class="b">Week</text>
<text x="883.5" y="88.0" font-size="8.0" fill="#000" color="#000" textLength="25.0" lengthAdjust="spacingAndGlyphs" class="b n">36.36</text>
<text x="883.5" y="180.0" font-size="8.0" fill="#000" color="#000" textLength="25.0" lengthAdjust="spacingAndGlyphs" class="b n">29.24</text>
<text x="883.5" y="233.0" font-size="8.0" fill="#000" color="#000" textLength="25.0" lengthAdjust="spacingAndGlyphs" class="b n">25.22</text>
<text x="883.5" y="269.0" font-size="8.0" fill="#000" color="#000" textLength="25.0" lengthAdjust="spacingAndGlyphs" class="b n">22.44</text>
<text x="883.5" y="297.0" font-size="8.0" fill="#000" color="#000" textLength="25.0" lengthAdjust="spacingAndGlyphs" class="b n">20.26</text>
<text x="883.5" y="317.0" font-size="8.0" fill="#000" color="#000" textLength="25.0" lengthAdjust="spacingAndGlyphs" class="b n">18.72</text>
<text x="883.5" y="335.0" font-size="8.0" fill="#000" color="#000" textLength="25.0" lengthAdjust="spacingAndGlyphs" class="b n">17.35</text>
<text x="883.5" y="350.0" font-size="8.0" fill="#000" color="#000" textLength="25.0" lengthAdjust="spacingAndGlyphs" class="b n">16.21</text>
<text x="883.5" y="363.0" font-size="8.0" fill="#000" color="#000" textLength="25.0" lengthAdjust="spacingAndGlyphs" class="b n">15.18</text>
<text x="883.5" y="391.0" font-size="8.0" fill="#000" color="#000" textLength="25.0" lengthAdjust="spacingAndGlyphs" class="b n">13.01</text>
<text x="883.5" y="406.0" font-size="8.0" fill="#000" color="#000" textLength="25.0" lengthAdjust="spacingAndGlyphs" class="b n">11.90</text>
<text x="883.5" y="421.0" font-size="8.0" fill="#000" color="#000" textLength="25.0" lengthAdjust="spacingAndGlyphs" class="b n">10.70</text>
<text x="883.5" y="436.0" font-size="8.0" fill="#000" color="#000" textLength="20.0" lengthAdjust="spacingAndGlyphs" class="b n">9.57</text>
<text x="883.5" y="448.0" font-size="8.0" fill="#000" color="#000" textLength="20.0" lengthAdjust="spacingAndGlyphs" class="b n">8.67</text>
<text x="883.5" y="461.0" font-size="8.0" fill="#000" color="#000" textLength="20.0" lengthAdjust="spacingAndGlyphs" class="b n">7.68</text>
<text x="883.5" y="473.0" font-size="8.0" fill="#000" color="#000" textLength="20.0" lengthAdjust="spacingAndGlyphs" class="b n">6.74</text>
<text x="883.5" y="487.0" font-size="8.0" fill="#000" color="#000" textLength="20.0" lengthAdjust="spacingAndGlyphs" class="b n">5.68</text>
<text x="883.5" y="502.0" font-size="8.0" fill="#000" color="#000" textLength="20.0" lengthAdjust="spacingAndGlyphs" class="b n">4.53</text>
<text class="n" transform="translate(918,372.2) rotate(-90)" font-size="11" text-anchor="middle" fill="#a06000" color="#a06000" textLength="43" lengthAdjust="spacingAndGlyphs">14.4974</text>
<text class="n" transform="translate(918,437) rotate(-90)" font-size="11" text-anchor="middle" fill="#009966" color="#009966" textLength="36.5" lengthAdjust="spacingAndGlyphs">9.5341</text>
<circle cx="48.5" cy="540.5" r="5.2" fill="none" stroke="#000066" stroke-width="1.3"/>
<text x="48.6" y="543.6" font-size="9" font-weight="bold" text-anchor="middle" fill="#000066">C</text>
<text x="56.5" y="546.0" font-size="11.0" fill="#000066" color="#000066" textLength="105.0" lengthAdjust="spacingAndGlyphs" class="b">www.textbiz.org</text>
<text x="42.5" y="557.0" font-size="11.0" fill="#000066" color="#000066" textLength="217.0" lengthAdjust="spacingAndGlyphs" class="b">The Research Foundation of SUNY</text>
<text x="282.5" y="598.0" font-size="11.0" fill="#000" color="#000" textLength="18.0" lengthAdjust="spacingAndGlyphs">LTD</text>
<rect x="302" y="592" width="13" height="5" fill="#000"/><rect x="302" y="593" width="13" height="3" fill="#00ffcc"/>
<text x="318.5" y="598.0" font-size="11.0" fill="#000" color="#000" textLength="18.0" lengthAdjust="spacingAndGlyphs">HTD</text>
<rect x="338" y="593" width="13" height="5" fill="#000"/><rect x="338" y="594" width="13" height="3" fill="#ffcc00"/>
<text x="354.5" y="598.0" font-size="11.0" fill="#000" color="#000" textLength="48.0" lengthAdjust="spacingAndGlyphs">prob:0%&lt;</text>
<rect x="404" y="587" width="16" height="6" fill="#fff4f4"/><rect x="404" y="593" width="16" height="6" fill="#f4f4ff"/>
<text x="420.5" y="598.0" font-size="11.0" fill="#000" color="#000" textLength="30.0" lengthAdjust="spacingAndGlyphs">&lt;10%&lt;</text>
<rect x="452" y="587" width="16" height="6" fill="#ffdcdc"/><rect x="452" y="593" width="16" height="6" fill="#dcdcff"/>
<text x="468.5" y="598.0" font-size="11.0" fill="#000" color="#000" textLength="30.0" lengthAdjust="spacingAndGlyphs">&lt;20%&lt;</text>
<rect x="500" y="587" width="16" height="6" fill="#ffc0c0"/><rect x="500" y="593" width="16" height="6" fill="#c0c0ff"/>
<text x="516.5" y="598.0" font-size="11.0" fill="#000" color="#000" textLength="30.0" lengthAdjust="spacingAndGlyphs">&lt;30%&lt;</text>
<rect x="548" y="587" width="16" height="6" fill="#ffa0a0"/><rect x="548" y="593" width="16" height="6" fill="#a0a0ff"/>
<text x="564.5" y="598.0" font-size="11.0" fill="#000" color="#000" textLength="30.0" lengthAdjust="spacingAndGlyphs">&lt;40%&lt;</text>
<rect x="596" y="587" width="16" height="6" fill="#ff8080"/><rect x="596" y="593" width="16" height="6" fill="#8080ff"/>
<text x="612.5" y="598.0" font-size="11.0" fill="#000" color="#000" textLength="24.0" lengthAdjust="spacingAndGlyphs">&lt;50%</text>
</svg></body></html>
